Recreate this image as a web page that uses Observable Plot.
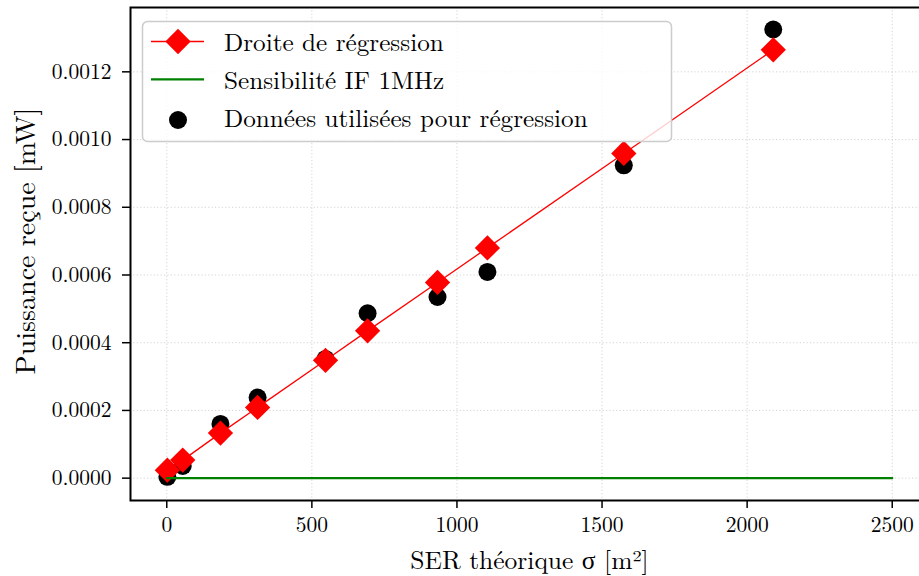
<!DOCTYPE html>
<html><head><meta charset="utf-8">
<script src="https://cdn.jsdelivr.net/npm/d3@7"></script>
<script src="https://cdn.jsdelivr.net/npm/@observablehq/plot@0.6"></script>
<style>
html,body{margin:0;padding:0;background:#fff;overflow:hidden;}
#wrap{position:relative;width:919px;height:576px;overflow:hidden;}
#wrap svg{position:absolute;left:0;top:0;max-width:none !important;}
</style></head><body><div id="wrap"></div>
<script>
// Regression line (red diamonds)
const sigmaRegression = [2, 55, 185, 313, 547, 692, 933, 1105, 1575, 2090];
const powerRegression = [0.0000236, 0.0000533, 0.000133, 0.000209, 0.000348, 0.000435, 0.000578, 0.000680, 0.000959, 0.001265];
// Measured data used for regression (black dots)
const sigmaData = [2, 55, 185, 313, 547, 692, 933, 1105, 1575, 2090];
const powerData = [0.000004, 0.000036, 0.000160, 0.000238, 0.000352, 0.000487, 0.000535, 0.000609, 0.000924, 0.001325];
// IF sensitivity 1 MHz (green)
const sigmaSensitivity = [0, 2500];
const powerSensitivity = [0, 0];
// Ticks
const xTicks = [0, 500, 1000, 1500, 2000, 2500];
const yTicks = [0, 0.0002, 0.0004, 0.0006, 0.0008, 0.0010, 0.0012];
// Texts
const xLabel = "SER théorique σ [m²]";
const yLabel = "Puissance reçue [mW]";
const legendLabels = ["Droite de régression", "Sensibilité IF 1MHz", "Données utilisées pour régression"];

const regression = sigmaRegression.map((s, i) => ({s, p: powerRegression[i]}));
const measured = sigmaData.map((s, i) => ({s, p: powerData[i]}));
const sensitivity = sigmaSensitivity.map((s, i) => ({s, p: powerSensitivity[i]}));

const FONT = '"Latin Modern Roman", "CMU Serif", "Liberation Serif", serif';

const chart = Plot.plot({
  width: 928, height: 576,
  marginLeft: 130, marginRight: 0, marginTop: 7, marginBottom: 76,
  style: {fontFamily: FONT, fontSize: "21.5px", color: "black", background: "white", overflow: "visible", maxWidth: "none"},
  x: {domain: [-125, 2625]},
  y: {domain: [-0.000066, 0.00139]},
  marks: [
    Plot.gridX(xTicks, {stroke: "#b0b0b0", strokeOpacity: 0.55, strokeDasharray: "1.2,2.2", strokeWidth: 1}),
    Plot.gridY(yTicks, {stroke: "#b0b0b0", strokeOpacity: 0.55, strokeDasharray: "1.2,2.2", strokeWidth: 1}),
    Plot.dot(measured, {x: "s", y: "p", r: 9, fill: "black"}),
    Plot.line(regression, {x: "s", y: "p", stroke: "red", strokeWidth: 1.3}),
    Plot.dot(regression, {x: "s", y: "p", symbol: "diamond2", r: 11.4, fill: "red"}),
    Plot.line(sensitivity, {x: "s", y: "p", stroke: "green", strokeWidth: 2.3}),
    Plot.axisX(xTicks, {tickSize: 8, tickPadding: 8, strokeWidth: 1.5, tickFormat: d => String(d), fontSize: 21.5, label: null}),
    Plot.axisY(yTicks, {tickSize: 8, tickPadding: 11, strokeWidth: 1.5, tickFormat: d3.format(".4f"), fontSize: 21.5, label: null}),
    Plot.frame({stroke: "black", strokeWidth: 2}),
    Plot.text([xLabel], {frameAnchor: "bottom", text: d => d, dy: 60, fontSize: 25.5, lineAnchor: "middle", textAnchor: "middle"}),
    Plot.text([yLabel], {frameAnchor: "left", text: d => d, dx: -104, dy: -13, rotate: -90, fontSize: 28, lineAnchor: "middle", textAnchor: "middle"})
  ]
});
const wrap = document.getElementById("wrap");
wrap.appendChild(chart);

// Legend overlay
const ns = "http://www.w3.org/2000/svg";
const leg = document.createElementNS(ns, "svg");
leg.setAttribute("width", 919); leg.setAttribute("height", 576);
leg.style.fontFamily = FONT;
const rowsY = [41.5, 79.3, 120];
const baselines = [51, 89, 127];
let html = `<rect x="142.5" y="21.5" width="529" height="120" rx="5" fill="white" fill-opacity="0.8" stroke="#cccccc" stroke-width="1.5"/>`;
html += `<line x1="151" x2="204" y1="${rowsY[0]}" y2="${rowsY[0]}" stroke="red" stroke-width="1.3"/>`;
html += `<path d="M178,${rowsY[0]-12.7} L190.7,${rowsY[0]} L178,${rowsY[0]+12.7} L165.3,${rowsY[0]}Z" fill="red"/>`;
html += `<line x1="151" x2="204" y1="${rowsY[1]}" y2="${rowsY[1]}" stroke="green" stroke-width="2.3"/>`;
html += `<circle cx="178" cy="${rowsY[2]}" r="9" fill="black"/>`;
legendLabels.forEach((t, i) => {
  html += `<text x="224" y="${baselines[i]}" font-size="25.2" fill="black">${t}</text>`;
});
leg.innerHTML = html;
wrap.appendChild(leg);
</script>
</body></html>
